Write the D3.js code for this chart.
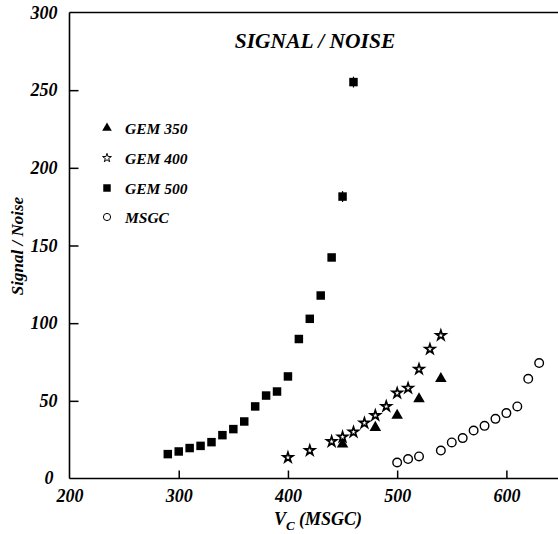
<!DOCTYPE html>
<html><head><meta charset="utf-8">
<script src="https://cdn.jsdelivr.net/npm/d3@7"></script>
<style>body{margin:0;background:#fff}svg{display:block}text{font-family:"Liberation Serif","Times New Roman",serif;font-weight:bold;font-style:italic;fill:#000}</style>
</head><body>
<script>
const gem350X = [450, 480, 500, 520, 540];
const gem350Y = [22.1, 32.8, 40.6, 51.3, 64.2];
const gem400X = [400, 420, 440, 450, 460, 470, 480, 490, 500, 510, 520, 530, 540];
const gem400Y = [13.5, 18.0, 23.8, 26.7, 29.9, 35.7, 40.6, 46.4, 55.0, 58.2, 70.4, 83.3, 92.1];
const gem500X = [290, 300, 310, 320, 330, 340, 350, 360, 370, 380, 390, 400, 410, 420, 430, 440, 450, 460];
const gem500Y = [15.7, 17.4, 19.6, 21.0, 23.4, 27.9, 31.8, 36.7, 46.4, 53.4, 56.0, 65.7, 89.8, 102.8, 117.8, 142.3, 181.5, 255.2];
const gem500Err = [0, 0, 0, 0, 0, 0, 0, 0, 0, 0, 0, 0, 0, 0, 0, 0, 3.5, 3.5];
const msgcX = [500, 510, 520, 540, 550, 560, 570, 580, 590, 600, 610, 620, 630];
const msgcY = [10.3, 12.5, 14.2, 18.0, 23.2, 26.0, 30.9, 33.9, 38.4, 42.1, 46.4, 64.2, 74.3];
const xTicks = [200, 300, 400, 500, 600];
const yTicks = [0, 50, 100, 150, 200, 250, 300];
const legendNames = ["GEM 350", "GEM 400", "GEM 500", "MSGC"];

const W = 558, H = 534;
const svg = d3.select("body").append("svg").attr("width", W).attr("height", H);
const x = d3.scaleLinear().domain([200, 650]).range([69.5, 561]);
const y = d3.scaleLinear().domain([0, 300]).range([478.5, 12.5]);

// frame
svg.append("line").attr("x1", x(200)).attr("x2", W).attr("y1", y(300)).attr("y2", y(300)).attr("stroke", "#000").attr("stroke-width", 1.6);
svg.append("line").attr("x1", x(200)).attr("x2", W).attr("y1", y(0)).attr("y2", y(0)).attr("stroke", "#000").attr("stroke-width", 1.6);
svg.append("line").attr("x1", x(200)).attr("x2", x(200)).attr("y1", y(0)).attr("y2", y(300)).attr("stroke", "#000").attr("stroke-width", 1.6);

// x axis
const xa = svg.append("g").attr("transform", `translate(0,${y(0)})`)
  .call(d3.axisBottom(x).tickValues(xTicks).tickSizeInner(-8).tickSizeOuter(0).tickPadding(11).tickFormat(d3.format("d")));
xa.select(".domain").remove();
xa.selectAll(".tick line").attr("stroke-width", 1.5).filter(d => d === 200).remove();
xa.selectAll(".tick text").attr("font-size", 18).attr("font-family", null).attr("dy", "0.71em");

// y axis
const ya = svg.append("g").attr("transform", `translate(${x(200)},0)`)
  .call(d3.axisLeft(y).tickValues(yTicks).tickSizeInner(-9).tickSizeOuter(0).tickPadding(12).tickFormat(d3.format("d")));
ya.select(".domain").remove();
ya.selectAll(".tick line").attr("stroke-width", 1.5).filter(d => d === 0 || d === 300).remove();
ya.selectAll(".tick text").attr("font-size", 18).attr("font-family", null);
ya.selectAll(".tick").filter(d => d === 0).select("text").attr("dy", "0.3em").attr("x", -16);

// titles
svg.append("text").attr("x", 315).attr("y", 48).attr("text-anchor", "middle").attr("font-size", 21.5).text("SIGNAL / NOISE");
const xt = svg.append("text").attr("x", 318).attr("y", 525).attr("text-anchor", "middle").attr("font-size", 18);
xt.append("tspan").text("V");
xt.append("tspan").attr("font-size", 13).attr("dy", 5).text("C");
xt.append("tspan").attr("dy", -5).text(" (MSGC)");
svg.append("text").attr("transform", "translate(23,246) rotate(-90)").attr("text-anchor", "middle").attr("font-size", 17).text("Signal / Noise");

const plot = svg.append("g");
// GEM 500 error bars
plot.selectAll(".eb").data(gem500X.map((v, i) => [v, gem500Y[i], gem500Err[i]]).filter(d => d[2] > 0)).join("line")
  .attr("x1", d => x(d[0])).attr("x2", d => x(d[0])).attr("y1", d => y(d[1] - d[2])).attr("y2", d => y(d[1] + d[2]))
  .attr("stroke", "#000").attr("stroke-width", 1.2);
plot.selectAll(".sq").data(gem500X.map((v, i) => [v, gem500Y[i]])).join("path")
  .attr("d", d3.symbol(d3.symbolSquare, 72)).attr("transform", d => `translate(${x(d[0])},${y(d[1])})`).attr("fill", "#000");
plot.selectAll(".tri").data(gem350X.map((v, i) => [v, gem350Y[i]])).join("path")
  .attr("d", d3.symbol(d3.symbolTriangle, 58)).attr("transform", d => `translate(${x(d[0])},${y(d[1])})`).attr("fill", "#000");
plot.selectAll(".star").data(gem400X.map((v, i) => [v, gem400Y[i]])).join("path")
  .attr("d", d3.symbol(d3.symbolStar, 30)).attr("transform", d => `translate(${x(d[0])},${y(d[1])})`)
  .attr("fill", "#fff").attr("stroke", "#000").attr("stroke-width", 1.7).attr("stroke-linejoin", "miter");
plot.selectAll(".circ").data(msgcX.map((v, i) => [v, msgcY[i]])).join("circle")
  .attr("cx", d => x(d[0])).attr("cy", d => y(d[1])).attr("r", 4.3)
  .attr("fill", "#fff").attr("stroke", "#000").attr("stroke-width", 1.4);

// legend
const lg = svg.append("g");
const ly = [128, 158, 188, 217];
const lsym = [
  g => g.append("path").attr("d", d3.symbol(d3.symbolTriangle, 40)).attr("fill", "#000"),
  g => g.append("path").attr("d", d3.symbol(d3.symbolStar, 24)).attr("fill", "#fff").attr("stroke", "#000").attr("stroke-width", 1),
  g => g.append("path").attr("d", d3.symbol(d3.symbolSquare, 56)).attr("fill", "#000"),
  g => g.append("circle").attr("r", 3.6).attr("fill", "#fff").attr("stroke", "#000").attr("stroke-width", 1)
];
legendNames.forEach((n, i) => {
  const g = lg.append("g").attr("transform", `translate(107,${ly[i]})`);
  lsym[i](g);
  lg.append("text").attr("x", 125).attr("y", ly[i] + 5.5).attr("font-size", 15.5).text(n);
});
</script>
</body></html>
